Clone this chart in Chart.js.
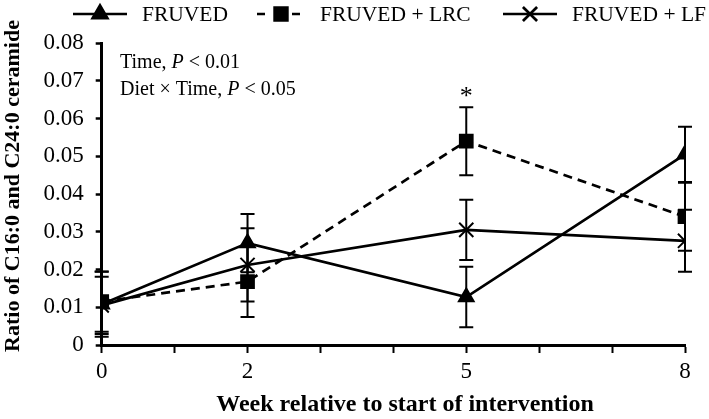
<!DOCTYPE html>
<html>
<head>
<meta charset="utf-8">
<script src="https://cdn.jsdelivr.net/npm/chart.js@4.4.1/dist/chart.umd.min.js"></script>
<style>
  html, body { margin: 0; padding: 0; background: #fff; }
  #wrap { width: 709px; height: 419px; }
</style>
</head>
<body>
<div id="wrap"><canvas id="chart" width="709" height="419"></canvas></div>
<script>
const weeks = [0, 2, 5, 8];
const xLabels = [0, 2, 5, 8];
const yTicks = [0, 0.01, 0.02, 0.03, 0.04, 0.05, 0.06, 0.07, 0.08];

const fruved = [0.0108, 0.0270, 0.0127, 0.0505];
const fruvedErr = [0.0086, 0.0077, 0.0080, 0.0073];
const lrc = [0.0115, 0.0168, 0.0540, 0.0340];
const lrcErr = [0.0080, 0.0094, 0.0090, 0.0090];
const lf = [0.0105, 0.0212, 0.0305, 0.0276];
const lfErr = [0.0076, 0.0097, 0.0080, 0.0082];

const seriesNames = ['FRUVED', 'FRUVED + LRC', 'FRUVED + LF'];
const notes = ['Time, ', 'Diet \u00d7 Time, '];
const noteP = ['< 0.01', '< 0.05'];

const SERIF = '"Liberation Serif", "Times New Roman", serif';

const toPts = arr => arr.map((v, i) => ({ x: weeks[i], y: v }));

const datasets = [
  { label: seriesNames[0], data: toPts(fruved), err: fruvedErr, pointStyle: 'triangle', pointRadius: 8.5, borderDash: [] },
  { label: seriesNames[1], data: toPts(lrc), err: lrcErr, pointStyle: 'rect', pointRadius: 9, borderDash: [9, 6] },
  { label: seriesNames[2], data: toPts(lf), err: lfErr, pointStyle: 'crossRot', pointRadius: 10, borderDash: [] }
].map(d => Object.assign(d, {
  borderColor: '#000', backgroundColor: '#000', pointBackgroundColor: '#000',
  pointBorderColor: '#000', borderWidth: 2.7, pointBorderWidth: 2, tension: 0
}));

// error bars, asterisk, annotation, legend and axis titles
const extras = {
  id: 'extras',
  afterDatasetsDraw(chart) {
    const c = chart.ctx, xs = chart.scales.x, ys = chart.scales.y;
    c.save();
    c.strokeStyle = '#000';
    c.lineWidth = 2;
    chart.data.datasets.forEach(ds => {
      ds.data.forEach((p, i) => {
        const px = xs.getPixelForValue(p.x);
        const top = ys.getPixelForValue(p.y + ds.err[i]);
        const bot = ys.getPixelForValue(p.y - ds.err[i]);
        c.beginPath();
        c.moveTo(px, top); c.lineTo(px, bot);
        c.moveTo(px - 7, top); c.lineTo(px + 7, top);
        c.moveTo(px - 7, bot); c.lineTo(px + 7, bot);
        c.stroke();
      });
    });

    // asterisk above LRC week 5
    const li = weeks.indexOf(5);
    c.fillStyle = '#000';
    c.font = '26px ' + SERIF;
    c.textAlign = 'center';
    c.textBaseline = 'middle';
    c.fillText('*', xs.getPixelForValue(5), ys.getPixelForValue(lrc[li] + lrcErr[li]) - 10);

    // annotation
    c.textAlign = 'left';
    notes.forEach((t, i) => {
      const y = 63 + i * 27;
      let x = 120;
      c.font = '20px ' + SERIF;
      c.fillText(t, x, y);
      x += c.measureText(t).width;
      c.font = 'italic 20px ' + SERIF;
      c.fillText('P', x, y);
      x += c.measureText('P ').width;
      c.font = '20px ' + SERIF;
      c.fillText(noteP[i], x, y);
    });

    // legend
    const legendY = 14;
    const items = [
      { x0: 73, x1: 127, mx: 100, tx: 142, dash: [] },
      { x0: 257, x1: 300, mx: 281, tx: 320, dash: [8, 27] },
      { x0: 503, x1: 557, mx: 530, tx: 572, dash: [] }
    ];
    items.forEach((it, i) => {
      const ds = chart.data.datasets[i];
      c.lineWidth = 2.7;
      c.setLineDash(it.dash);
      c.beginPath();
      c.moveTo(it.x0, legendY); c.lineTo(it.x1, legendY);
      c.stroke();
      c.setLineDash([]);
      Chart.helpers.drawPoint(c, {
        pointStyle: ds.pointStyle, radius: ds.pointRadius, borderWidth: 2, rotation: 0
      }, it.mx, legendY);
      c.fillStyle = '#000';
      c.font = '21.5px ' + SERIF;
      c.textAlign = 'left';
      c.fillText(ds.label, it.tx, legendY + 1);
    });

    // axis titles
    c.font = 'bold 24px ' + SERIF;
    c.textAlign = 'center';
    c.fillText('Week relative to start of intervention', 405, 405);
    c.font = 'bold 22px ' + SERIF;
    c.save();
    c.translate(13, 186);
    c.rotate(-Math.PI / 2);
    c.fillText('Ratio of C16:0 and C24:0 ceramide', 0, 0);
    c.restore();
    c.restore();
  }
};

new Chart(document.getElementById('chart'), {
  type: 'line',
  data: { datasets },
  options: {
    responsive: false,
    animation: false,
    layout: { padding: { top: 43, right: 24, left: 0, bottom: 0 } },
    plugins: { legend: { display: false }, tooltip: { enabled: false } },
    scales: {
      x: {
        type: 'linear', min: 0, max: 8,
        afterFit: s => { s.height = 74; },
        afterBuildTicks: s => { s.ticks = [0, 1, 2, 3, 4, 5, 6, 7, 8].map(v => ({ value: v })); },
        ticks: {
          color: '#000', font: { family: SERIF, size: 23 }, padding: 5, maxRotation: 0, autoSkip: false,
          callback: v => xLabels.includes(v) ? String(v) : ''
        },
        grid: { drawOnChartArea: false, drawTicks: true, tickLength: 8, tickWidth: 2, tickColor: '#000' },
        border: { color: '#000', width: 3 }
      },
      y: {
        min: 0, max: 0.08,
        afterFit: s => { s.width = 101.7; },
        afterBuildTicks: s => { s.ticks = yTicks.map(v => ({ value: v })); },
        ticks: {
          color: '#000', font: { family: SERIF, size: 23 }, padding: 12,
          callback: v => v === 0 ? '0' : v.toFixed(2)
        },
        grid: { drawOnChartArea: false, drawTicks: true, tickLength: 6, tickWidth: 2.5, tickColor: '#000' },
        border: { color: '#000', width: 3 }
      }
    }
  },
  plugins: [extras]
});
</script>
</body>
</html>
